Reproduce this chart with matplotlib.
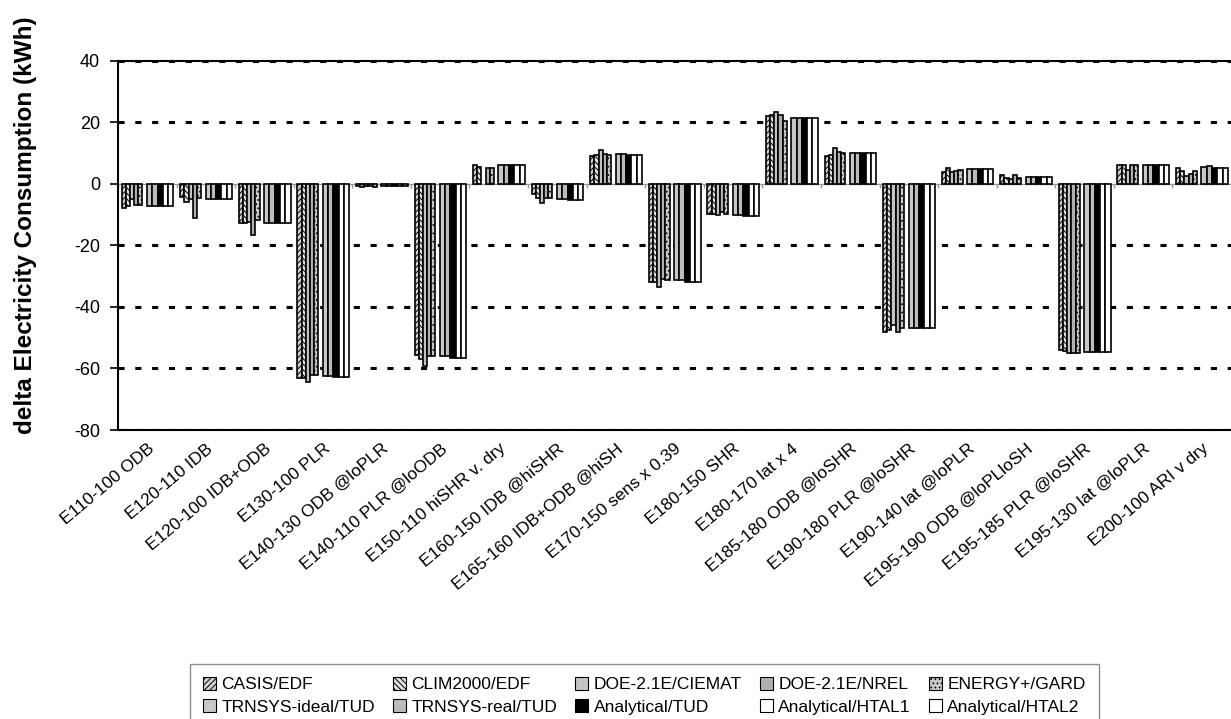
import numpy as np
import matplotlib
matplotlib.use("Agg")
import matplotlib.pyplot as plt
from matplotlib.patches import Patch

plt.rcParams['font.family'] = ['Liberation Sans', 'DejaVu Sans']
plt.rcParams['hatch.linewidth'] = 0.7

cases = [
    "E110-100 ODB", "E120-110 IDB", "E120-100 IDB+ODB", "E130-100 PLR",
    "E140-130 ODB @loPLR", "E140-110 PLR @loODB", "E150-110 hiSHR v. dry",
    "E160-150 IDB @hiSHR", "E165-160 IDB+ODB @hiSH", "E170-150 sens x 0.39",
    "E180-150 SHR", "E180-170 lat x 4", "E185-180 ODB @loSHR",
    "E190-180 PLR @loSHR", "E190-140 lat @loPLR", "E195-190 ODB @loPLloSH",
    "E195-185 PLR @loSHR", "E195-130 lat @loPLR", "E200-100 ARI v dry",
]

# Simulation programs (first cluster in each case)
casis_edf = [-7.9, -4.3, -12.8, -63.2, -0.8, -55.6, 6.2, -3.3, 9.0, -31.8,
             -9.9, 21.9, 9.0, -48.0, 3.8, 3.0, -54.0, 6.1, 5.0]
clim2000_edf = [-7.2, -6.0, -12.8, -63.0, -0.9, -57.0, 5.4, -4.7, 9.2, -32.0,
                -9.9, 22.3, 9.2, -47.6, 5.2, 2.0, -54.2, 6.2, 4.3]
doe_ciemat = [-4.8, -5.0, -12.5, -64.3, -0.8, -59.1, np.nan, -6.2, 10.9, -33.4,
              -10.2, 23.3, 11.5, -46.0, 3.7, 1.5, -55.1, 4.5, 2.6]
doe_nrel = [-6.9, -11.0, -16.6, -62.2, -0.7, -56.1, 5.2, -4.7, 9.8, -31.0,
            -9.3, 22.2, 10.4, -48.2, 4.3, 3.0, -55.1, 6.2, 3.3]
energyplus_gard = [-6.9, -4.5, -11.8, -62.2, -0.9, -56.0, 5.2, -4.7, 9.2, -31.2,
                   -9.8, 20.4, 10.0, -47.0, 4.4, 2.0, -55.0, 6.2, 4.0]

# TRNSYS and analytical solutions (second cluster in each case)
trnsys_ideal = [-7.2, -5.0, -12.6, -62.5, -0.8, -56.0, 6.2, -5.0, 9.6, -31.4,
                -10.2, 21.3, 9.9, -47.0, 4.9, 2.3, -54.8, 6.1, 5.6]
trnsys_real = [-7.2, -5.0, -12.6, -62.5, -0.8, -56.0, 6.2, -5.0, 9.6, -31.4,
               -10.2, 21.3, 9.9, -47.0, 4.9, 2.3, -54.8, 6.1, 5.8]
analytical_tud = [-7.3, -5.0, -12.6, -62.8, -0.8, -56.5, 6.2, -5.3, 9.5, -31.8,
                  -10.4, 21.4, 9.9, -47.0, 4.9, 2.3, -54.8, 6.1, 5.2]
analytical_htal1 = [-7.2, -5.0, -12.6, -62.8, -0.8, -56.5, 6.2, -5.3, 9.5, -31.8,
                    -10.5, 21.4, 9.9, -47.0, 4.9, 2.3, -54.8, 6.1, 5.2]
analytical_htal2 = [-7.2, -5.0, -12.6, -62.8, -0.8, -56.5, 6.2, -5.3, 9.5, -31.8,
                    -10.5, 21.4, 9.9, -47.0, 4.9, 2.3, -54.8, 6.1, 5.2]

series_names = ["CASIS/EDF", "CLIM2000/EDF", "DOE-2.1E/CIEMAT", "DOE-2.1E/NREL",
                "ENERGY+/GARD", "TRNSYS-ideal/TUD", "TRNSYS-real/TUD",
                "Analytical/TUD", "Analytical/HTAL1", "Analytical/HTAL2"]
series_values = [casis_edf, clim2000_edf, doe_ciemat, doe_nrel, energyplus_gard,
                 trnsys_ideal, trnsys_real, analytical_tud, analytical_htal1,
                 analytical_htal2]
y_ticks = [-80, -60, -40, -20, 0, 20, 40]

styles = [
    dict(facecolor="#d0d0d0", hatch="//////"),
    dict(facecolor="#e0e0e0", hatch="\\\\\\\\\\\\"),
    dict(facecolor="#c4c4c4", hatch=None),
    dict(facecolor="#b0b0b0", hatch=None),
    dict(facecolor="#c8c8c8", hatch="...."),
    dict(facecolor="#c8c8c8", hatch=None),
    dict(facecolor="#bcbcbc", hatch=None),
    dict(facecolor="#000000", hatch=None),
    dict(facecolor="#ffffff", hatch=None),
    dict(facecolor="#ffffff", hatch=None),
]

fig = plt.figure(figsize=(12.31, 7.19), dpi=100)
ax = fig.add_axes([118 / 1231, 1 - 430 / 719, 1 - 118 / 1231, (430 - 60.7) / 719])

n = len(cases)
x = np.arange(n)
# two clusters per case: simulation programs, then TRNSYS + analytical
w1, w2 = 0.071, 0.09
start1, start2 = 0.062, 0.495
for i, (name, vals, st) in enumerate(zip(series_names, series_values, styles)):
    vals = np.asarray(vals, dtype=float)
    if i < 5:
        pos = x + start1 + (i + 0.5) * w1
        w = w1
    else:
        pos = x + start2 + (i - 5 + 0.5) * w2
        w = w2
    ok = ~np.isnan(vals)
    ax.bar(pos[ok], vals[ok], width=w, color=st["facecolor"], hatch=st["hatch"],
           edgecolor="black", linewidth=1.2, zorder=3, label=name)

ax.set_xlim(0, n)
ax.set_ylim(-80, 40)
ax.set_yticks(y_ticks)
ax.set_yticklabels([str(t) for t in y_ticks], fontsize=13)
ax.tick_params(axis="y", direction="out", length=6, width=1.2, pad=7)

# dotted horizontal grid lines
for yv in [40, 20, -20, -40, -60, -80]:
    ax.axhline(yv, color="black", linestyle=(0, (2, 3.5)), linewidth=2.2, zorder=1)

# zero axis with category separators
ax.axhline(0, color="#9a9a9a", linewidth=1.0, zorder=2)
ax.vlines(np.arange(n + 1), -1.3, 0, color="#9a9a9a", linewidth=1.0, zorder=2)

ax.set_xticks(x + 0.5)
ax.set_xticklabels(cases, rotation=40, ha="right", rotation_mode="anchor", fontsize=12.5)
ax.tick_params(axis="x", length=0, pad=8)

for side in ["left", "top", "bottom"]:
    ax.spines[side].set_linewidth(1.5)
    ax.spines[side].set_color("black")
ax.spines["right"].set_visible(False)

ax.set_ylabel("delta Electricity Consumption (kWh)", fontsize=17.5, fontweight="bold")
ax.yaxis.set_label_coords(-0.073, 0.555)

# legend: 5 columns, filled row by row
handles = [Patch(facecolor=st["facecolor"], hatch=st["hatch"], edgecolor="black",
                 linewidth=0.8) for st in styles]
order = [0, 5, 1, 6, 2, 7, 3, 8, 4, 9]
leg = fig.legend([handles[k] for k in order], [series_names[k] for k in order],
                 ncol=5, loc="upper left", bbox_to_anchor=(190 / 1231, 1 - 664 / 719),
                 bbox_transform=fig.transFigure, borderaxespad=0, fontsize=12.5,
                 frameon=True, fancybox=False, edgecolor="#707070",
                 handlelength=0.75, handleheight=0.75, handletextpad=0.3,
                 columnspacing=1.05, borderpad=0.75, labelspacing=0.4)
leg.get_frame().set_linewidth(1.0)

fig.savefig("out.png", dpi=100)
